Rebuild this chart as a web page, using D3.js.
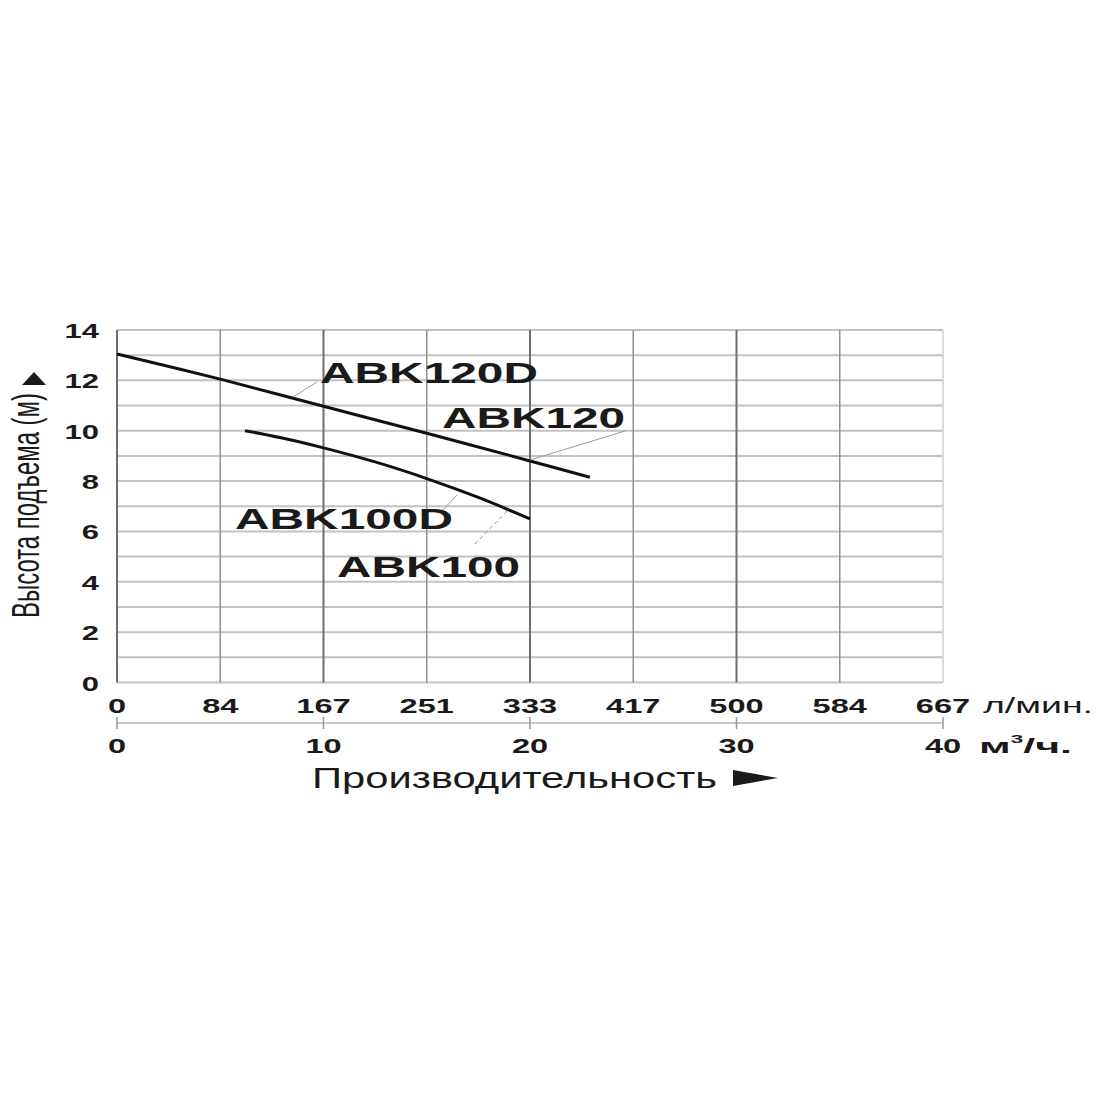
<!DOCTYPE html>
<html>
<head>
<meta charset="utf-8">
<script src="https://cdn.jsdelivr.net/npm/d3@7"></script>
<style>
  html, body { margin: 0; padding: 0; background: #fff; }
  svg { display: block; }
  text { font-family: "Liberation Sans", Arial, sans-serif; fill: #1a1a1a; }
</style>
</head>
<body>
<svg id="chart" width="1100" height="1100"></svg>
<script>
// ---- data ----
const lpmLabels = ["0", "84", "167", "251", "333", "417", "500", "584", "667"];
const lpmPositions = [0, 5, 10, 15, 20, 25, 30, 35, 40];   // in m³/h
const m3hTicks = [0, 10, 20, 30, 40];
const headTicks = [0, 2, 4, 6, 8, 10, 12, 14];
const headGrid = [0, 1, 2, 3, 4, 5, 6, 7, 8, 9, 10, 11, 12, 13, 14];

const abk120Flow = [0, 5, 10, 15, 20, 22.9];
const abk120Head = [13.05, 12.05, 10.97, 9.9, 8.8, 8.15];
const abk100Flow = [6.2, 8, 10, 12.5, 15, 17.5, 20];
const abk100Head = [10.0, 9.71, 9.32, 8.76, 8.1, 7.35, 6.5];

const seriesNames = ["ABK120D", "ABK120", "ABK100D", "ABK100"];

// ---- layout ----
const svg = d3.select("#chart");
const x = d3.scaleLinear().domain([0, 40]).range([117, 943]);
const y = d3.scaleLinear().domain([0, 14]).range([682.5, 330]);
const SX = 1.6;

function label(g, txt, px, py, opts) {
  const o = Object.assign({size: 20, weight: "bold", anchor: "middle", sx: SX, rotate: 0, len: null}, opts || {});
  const t = g.append("text")
    .attr("transform", `translate(${px},${py}) scale(${o.sx},1)` + (o.rotate ? ` rotate(${o.rotate})` : ""))
    .attr("text-anchor", o.anchor)
    .attr("font-size", o.size)
    .attr("font-weight", o.weight)
    .text(txt);
  if (o.len) t.attr("textLength", o.len).attr("lengthAdjust", "spacingAndGlyphs");
  return t;
}

// grid
const grid = svg.append("g");
grid.selectAll("line.h").data(headGrid).join("line")
  .attr("x1", x(0)).attr("x2", x(40))
  .attr("y1", d => y(d)).attr("y2", d => y(d))
  .attr("stroke", "#c2c2c2").attr("stroke-width", 2);
grid.selectAll("line.v").data(lpmPositions).join("line")
  .attr("x1", d => x(d)).attr("x2", d => x(d))
  .attr("y1", y(0)).attr("y2", y(14))
  .attr("stroke", d => d === 40 ? "#cfcfcf" : (d % 10 === 0 ? "#6e6e6e" : "#909090"))
  .attr("stroke-width", d => d === 0 ? 2 : (d % 10 === 0 && d !== 40 ? 2 : 1.5));

// y tick labels
const yl = svg.append("g");
headTicks.forEach(v => label(yl, String(v), 99, y(v) + 8, {size: 20, anchor: "end", sx: 1.55}));

// top x labels (л/мин)
const xl = svg.append("g");
lpmLabels.forEach((s, i) => label(xl, s, x(lpmPositions[i]), 713, {size: 21, sx: 1.55}));
label(xl, "л/мин.", 983, 713, {size: 22, weight: "normal", anchor: "start", sx: 1, len: 110});

// second axis (м³/ч)
const ax2 = svg.append("g");
ax2.append("line").attr("x1", x(0)).attr("x2", x(40)).attr("y1", 723).attr("y2", 723)
  .attr("stroke", "#c8c8c8").attr("stroke-width", 2);
ax2.selectAll("line.t").data(m3hTicks).join("line")
  .attr("x1", d => x(d)).attr("x2", d => x(d)).attr("y1", 717).attr("y2", 729)
  .attr("stroke", "#999").attr("stroke-width", 1.5);
m3hTicks.forEach(v => label(ax2, String(v), x(v), 753, {size: 21, sx: 1.55}));
const m3 = ax2.append("text")
  .attr("transform", "translate(979,753)")
  .attr("font-size", 21).attr("font-weight", "bold")
  .attr("textLength", 93).attr("lengthAdjust", "spacingAndGlyphs");
m3.append("tspan").text("м");
m3.append("tspan").attr("font-size", 11).attr("dy", -10).text("3");
m3.append("tspan").attr("dy", 10).text("/ч.");

// axis titles
label(svg, "Производительность", 312, 788, {size: 30, weight: "normal", anchor: "start", sx: 1, len: 405});
svg.append("path").attr("d", "M733,770 L733,786 L778,778 Z").attr("fill", "#1a1a1a");
label(svg, "Высота подъема (м)", 39, 618, {size: 23, weight: "normal", anchor: "start", sx: 1.65, rotate: -90, len: 225});
svg.append("path").attr("d", "M22,385 L46,385 L34,372 Z").attr("fill", "#1a1a1a");

// curves
const line = d3.line().x(d => x(d[0])).y(d => y(d[1])).curve(d3.curveCatmullRom);
const curves = [d3.zip(abk120Flow, abk120Head), d3.zip(abk100Flow, abk100Head)];
svg.append("g").selectAll("path").data(curves).join("path")
  .attr("d", line).attr("fill", "none").attr("stroke", "#111").attr("stroke-width", 3);

// leader lines
const leaders = [
  [[293, 397], [317, 382], false],
  [[530, 460], [625, 431], false],
  [[457, 495], [440, 513], false],
  [[507, 511], [473, 546], true]
];
svg.append("g").selectAll("line").data(leaders).join("line")
  .attr("x1", d => d[0][0]).attr("y1", d => d[0][1])
  .attr("x2", d => d[1][0]).attr("y2", d => d[1][1])
  .attr("stroke", "#9a9a9a").attr("stroke-width", 1)
  .attr("stroke-dasharray", d => d[2] ? "4,3" : null);

// series labels
const sl = svg.append("g");
const labelPos = [[320, 383, 218], [442, 428, 183], [235, 529, 218], [337, 577, 183]];
seriesNames.forEach((n, i) => {
  label(sl, n, labelPos[i][0], labelPos[i][1], {size: 29, anchor: "start", sx: 1, len: labelPos[i][2]});
});
</script>
</body>
</html>
